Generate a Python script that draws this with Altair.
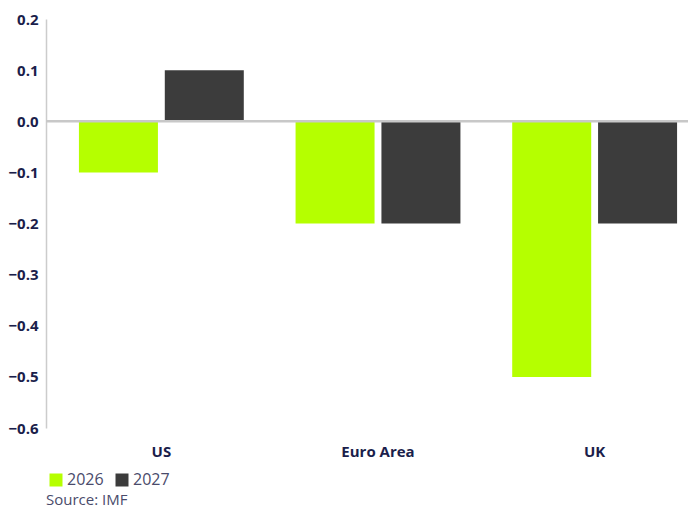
import altair as alt
import pandas as pd

regions = ["US", "Euro Area", "UK"]
years = ["2026", "2027"]
v2026 = [-0.1, -0.2, -0.5]
v2027 = [0.1, -0.2, -0.2]
y_ticks = [0.2, 0.1, 0.0, -0.1, -0.2, -0.3, -0.4, -0.5, -0.6]
colors = ["#b5ff00", "#3c3c3c"]

rows = []
for i, r in enumerate(regions):
    rows.append({"region": r, "year": years[0], "value": v2026[i]})
    rows.append({"region": r, "year": years[1], "value": v2027[i]})
df = pd.DataFrame(rows)

NAVY = "#1b1e4b"
FONT = "Open Sans"

bars = alt.Chart(df).mark_bar().encode(
    x=alt.X("region:N", sort=regions, title=None,
            scale=alt.Scale(paddingInner=0.239, paddingOuter=0.152, range=[0, 664]),
            axis=alt.Axis(labelAngle=0, domain=False, ticks=False, labelPadding=16,
                          labelFont=FONT, labelFontSize=15, labelFontWeight="bold",
                          labelColor=NAVY)),
    xOffset=alt.XOffset("year:N", sort=years, scale=alt.Scale(paddingInner=0.08, paddingOuter=0)),
    y=alt.Y("value:Q", title=None,
            scale=alt.Scale(domain=[-0.6, 0.2], nice=False, zero=False),
            axis=alt.Axis(values=y_ticks, format=".1f", grid=False, ticks=False,
                          domainColor="#cccccc", domainWidth=1.5, labelPadding=8,
                          labelFont=FONT, labelFontSize=15, labelFontWeight="bold",
                          labelColor=NAVY)),
    color=alt.Color("year:N", sort=years, scale=alt.Scale(domain=years, range=colors),
                    legend=alt.Legend(title=None, orient="none", direction="horizontal",
                                      legendX=2, legendY=453, symbolType="square",
                                      symbolSize=169, symbolStrokeWidth=0,
                                      labelFont=FONT, labelFontSize=16,
                                      labelColor="#4a4b6b", labelOffset=3,
                                      columnPadding=10)),
)

zero = alt.Chart(pd.DataFrame({"v": [0.0]})).mark_rule(color="#c8c8c8", strokeWidth=2.5).encode(
    y="v:Q", x=alt.value(0), x2=alt.value(660)
)

chart = alt.layer(bars, zero).properties(
    width=642, height=409,
    title=alt.TitleParams("Source: IMF", orient="bottom", anchor="start", frame="group",
                          font=FONT, fontSize=15, fontWeight="normal", color="#4a4b6b",
                          offset=5),
    autosize=alt.AutoSizeParams(type="none"),
    padding={"left": 38, "top": 11, "right": 0, "bottom": 79},
).configure_view(stroke=None)

chart.save("out.html", embed_options={"renderer": "svg", "actions": False})
